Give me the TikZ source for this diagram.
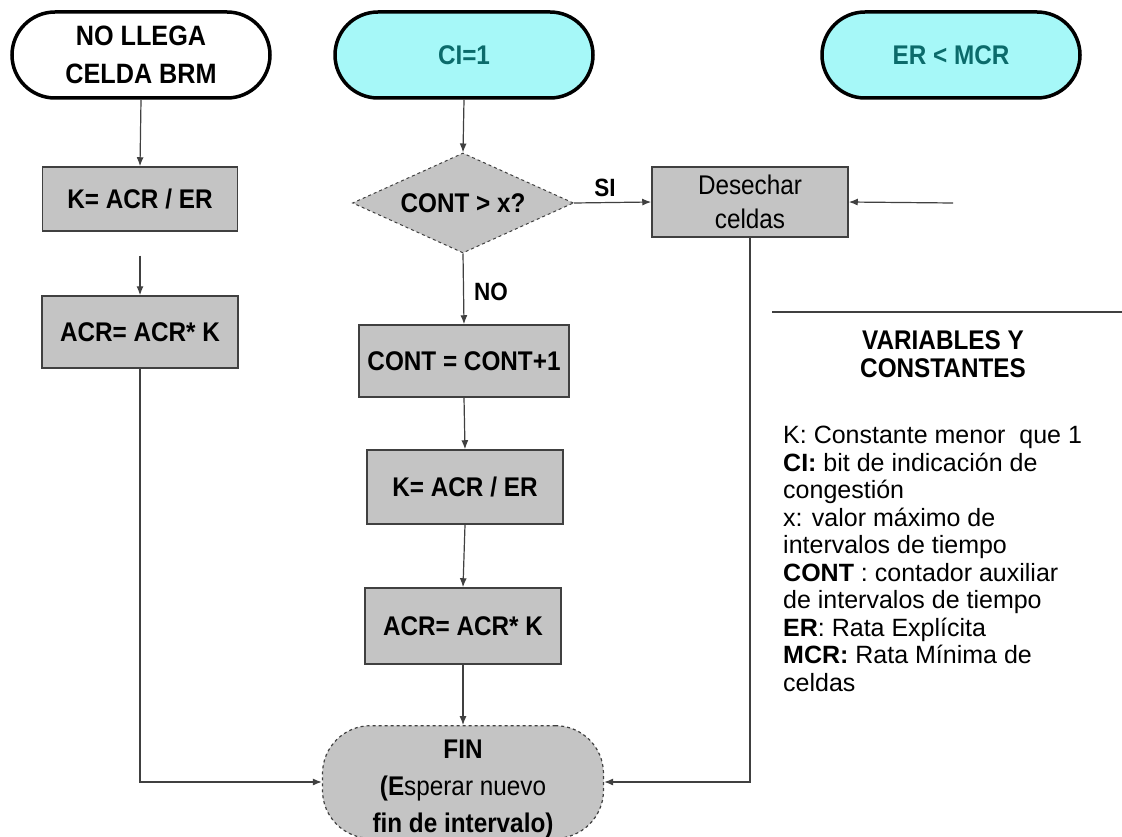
\documentclass[tikz,border=0pt]{standalone}
\usepackage{fontspec}
\setmainfont{Liberation Sans}
\newfontfamily\condfont[FakeStretch=0.9]{Liberation Sans}
\usetikzlibrary{shapes.geometric,shapes.misc,arrows.meta}
\definecolor{cyanfill}{HTML}{A6F8F8}
\definecolor{tealtext}{HTML}{0B6B6B}
\definecolor{boxgray}{HTML}{C4C4C4}
\definecolor{linegray}{HTML}{404040}
\newcommand{\boxfont}{\condfont\fontsize{27}{36}\selectfont\bfseries}
\newcommand{\legfont}{\fontsize{25}{27.5}\selectfont}
\begin{document}
\begin{tikzpicture}[x=1pt,y=-1pt,
  term/.style={rounded rectangle, draw=black, line width=3.5pt, minimum width=258pt, minimum height=86pt, inner sep=0pt, align=center, font=\boxfont},
  cterm/.style={term, fill=cyanfill, text=tealtext},
  proc/.style={rectangle, draw=linegray, line width=1.5pt, fill=boxgray, inner sep=0pt, align=center, font=\boxfont},
  decis/.style={diamond, shape aspect=2.21, draw=linegray, dashed, line width=1pt, fill=boxgray, inner sep=0pt, minimum width=221pt, minimum height=100pt, font=\boxfont},
  finbox/.style={rectangle, rounded corners=48pt, draw=linegray, dashed, line width=1.2pt, fill=boxgray, minimum width=281pt, minimum height=106pt, inner sep=0pt, align=center, font=\condfont\fontsize{27}{37}\selectfont},
  lbl/.style={font=\condfont\fontsize{25}{28}\selectfont\bfseries, inner sep=0pt},
  arr/.style={draw=linegray, line width=1.2pt, -{Latex[length=9pt,width=7pt]}},
  ln/.style={draw=linegray, line width=1.2pt}
]
\useasboundingbox (0,0) rectangle (1122,837);
\fill[white] (0,0) rectangle (1122,837);

% terminals
\node[term, font=\condfont\fontsize{28}{38}\selectfont\bfseries] (nollega) at (141,55) {NO LLEGA\\CELDA BRM};
\node[cterm] (ci) at (464,55) {CI=1};
\node[cterm] (ermcr) at (951,55) {ER < MCR};

% left column
\node[proc, minimum width=195pt, minimum height=64pt] (kL) at (140,199) {K= ACR / ER};
\node[proc, minimum width=196pt, minimum height=72pt] (acrL) at (140,332) {ACR= ACR* K};

% centre column
\node[decis] (dec) at (463,203) {CONT > x?};
\node[proc, minimum width=210pt, minimum height=72pt] (cont) at (464,361) {CONT = CONT+1};
\node[proc, minimum width=196pt, minimum height=74pt] (kC) at (465,487) {K= ACR / ER};
\node[proc, minimum width=196pt, minimum height=76pt] (acrC) at (463,626) {ACR= ACR* K};
\node[finbox] (fin) at (463,782) {\rule{0pt}{33pt}\textbf{FIN}\\\textbf{(E}sperar nuevo\\\textbf{fin de intervalo)}};

% discard box
\node[proc, font=\condfont\fontsize{27}{34}\selectfont, minimum width=196pt, minimum height=70pt] (des) at (750,202) {Desechar\\celdas};
\coordinate (rin) at (953,203);

% labels
\node[lbl] (si) at (605,188) {SI};
\node[lbl] (no) at (491,292) {NO};

% connectors
\draw[arr] (nollega.south) -- (kL.north);
\draw[arr, shorten <=24pt] (kL.south) -- (acrL.north);
\draw[arr] (acrL.south) |- (fin.west);
\draw[arr] (ci.south) -- (dec.north);
\draw[arr] (dec.east) -- (des.west);
\draw[arr] (dec.south) -- (cont.north);
\draw[arr] (cont.south) -- (kC.north);
\draw[arr] (kC.south) -- (acrC.north);
\draw[arr] (acrC.south) -- (fin.north);
\draw[arr] (rin) -- (des.east);
\draw[arr] (des.south) |- (fin.east);

% legend
\coordinate (lA) at (772,312);
\coordinate (lB) at (1122,312);
\draw[ln, line width=1.5pt] (lA) -- (lB);
\node[align=center, inner sep=0pt, font=\condfont\fontsize{27}{28}\selectfont\bfseries] (title) at (943,354) {VARIABLES Y\\CONSTANTES};
\node[anchor=north west, align=left, inner sep=0pt, font=\legfont] (legend) at (783,426) {%
K: Constante menor\ \ que 1\\
\textbf{CI:} bit de indicación de\\
congestión\\
x: valor máximo de\\
intervalos de tiempo\\
\textbf{CONT} : contador auxiliar\\
de intervalos de tiempo\\
\textbf{ER}: Rata Explícita\\
\textbf{MCR:} Rata Mínima de\\
celdas};
\end{tikzpicture}
\end{document}
